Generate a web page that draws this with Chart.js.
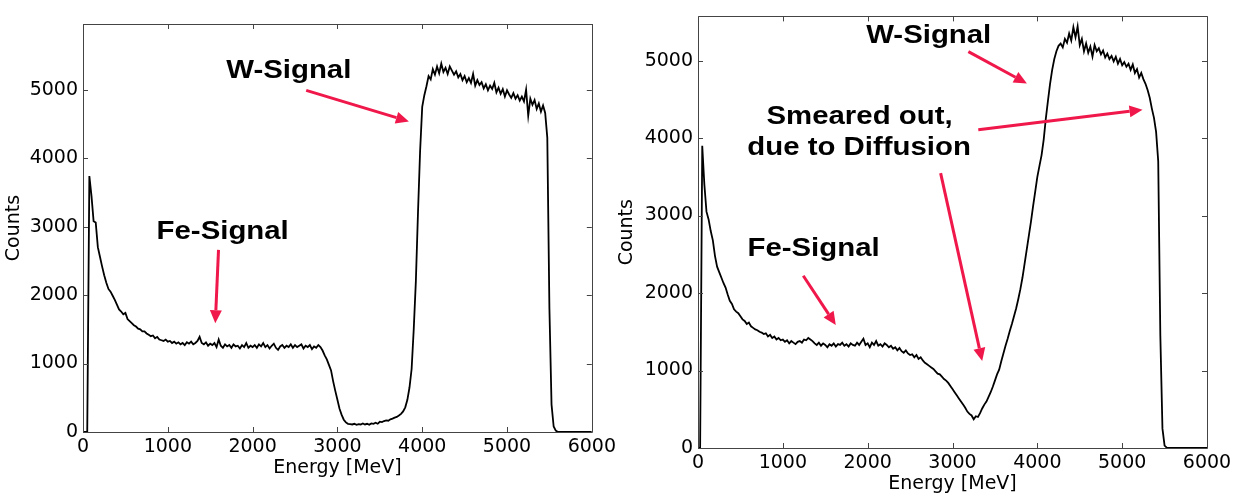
<!DOCTYPE html>
<html>
<head>
<meta charset="utf-8">
<script src="https://cdn.jsdelivr.net/npm/chart.js@4"></script>
<style>
  html, body { margin: 0; padding: 0; background: #fff; }
  #wrap { position: relative; width: 1240px; height: 497px; }
  canvas { position: absolute; top: 0; }
  #left { left: 0; }
  #right { left: 610px; }
</style>
</head>
<body>
<div id="wrap">
  <canvas id="left" width="620" height="497"></canvas>
  <canvas id="right" width="630" height="497"></canvas>
</div>
<script>
// bin energies (MeV)
const energies = [
  0, 25, 50, 75, 100, 125, 150, 175, 200, 225,
  250, 275, 300, 325, 350, 375, 400, 425, 450, 475,
  500, 525, 550, 575, 600, 625, 650, 675, 700, 725,
  750, 775, 800, 825, 850, 875, 900, 925, 950, 975,
  1000, 1025, 1050, 1075, 1100, 1125, 1150, 1175, 1200, 1225,
  1250, 1275, 1300, 1325, 1350, 1375, 1400, 1425, 1450, 1475,
  1500, 1525, 1550, 1575, 1600, 1625, 1650, 1675, 1700, 1725,
  1750, 1775, 1800, 1825, 1850, 1875, 1900, 1925, 1950, 1975,
  2000, 2025, 2050, 2075, 2100, 2125, 2150, 2175, 2200, 2225,
  2250, 2275, 2300, 2325, 2350, 2375, 2400, 2425, 2450, 2475,
  2500, 2525, 2550, 2575, 2600, 2625, 2650, 2675, 2700, 2725,
  2750, 2775, 2800, 2825, 2850, 2875, 2900, 2925, 2950, 2975,
  3000, 3025, 3050, 3075, 3100, 3125, 3150, 3175, 3200, 3225,
  3250, 3275, 3300, 3325, 3350, 3375, 3400, 3425, 3450, 3475,
  3500, 3525, 3550, 3575, 3600, 3625, 3650, 3675, 3700, 3725,
  3750, 3775, 3800, 3825, 3850, 3875, 3900, 3925, 3950, 3975,
  4000, 4025, 4050, 4075, 4100, 4125, 4150, 4175, 4200, 4225,
  4250, 4275, 4300, 4325, 4350, 4375, 4400, 4425, 4450, 4475,
  4500, 4525, 4550, 4575, 4600, 4625, 4650, 4675, 4700, 4725,
  4750, 4775, 4800, 4825, 4850, 4875, 4900, 4925, 4950, 4975,
  5000, 5025, 5050, 5075, 5100, 5125, 5150, 5175, 5200, 5225,
  5250, 5275, 5300, 5325, 5350, 5375, 5400, 5425, 5450, 5475,
  5500, 5525, 5550, 5575, 5600, 5625, 5650, 5675, 5700, 5725,
  5750, 5775, 5800, 5825, 5850, 5875, 5900, 5925, 5950, 5975,
  6000
];

// left: sharp W-signal
const countsLeft = [
  0, 0, 0, 3740, 3450, 3080, 3060, 2700, 2560, 2420,
  2290, 2180, 2090, 2050, 1990, 1930, 1860, 1790, 1760, 1720,
  1740, 1650, 1620, 1590, 1560, 1540, 1510, 1500, 1470, 1470,
  1440, 1420, 1400, 1410, 1370, 1390, 1350, 1340, 1330, 1350,
  1320, 1330, 1300, 1320, 1290, 1310, 1280, 1300, 1270, 1310,
  1290, 1320, 1280, 1300, 1330, 1390, 1300, 1280, 1310, 1260,
  1290, 1270, 1300, 1240, 1350, 1260, 1230, 1280, 1250, 1270,
  1230, 1280, 1250, 1260, 1220, 1270, 1240, 1300, 1230, 1260,
  1240, 1270, 1230, 1280, 1250, 1300, 1240, 1270, 1220, 1260,
  1290, 1230, 1200, 1250, 1270, 1230, 1260, 1240, 1280, 1230,
  1270, 1240, 1260, 1280, 1220, 1260, 1240, 1270, 1210, 1250,
  1230, 1270, 1240, 1190, 1120, 1060, 980, 900, 740, 600,
  470, 340, 250, 180, 140, 120, 115, 110, 120, 105,
  115, 110, 125, 110, 120, 105, 125, 120, 135, 120,
  150, 145, 160, 170, 165, 185, 195, 210, 220, 240,
  265, 300, 360, 470, 650, 920, 1500, 2200, 3200, 4100,
  4750, 4920, 5050, 5200, 5150, 5300, 5220, 5340, 5240, 5380,
  5260, 5320, 5230, 5340, 5280, 5220, 5270, 5180, 5230, 5140,
  5200, 5110, 5170, 5100, 5230, 5060, 5140, 5070, 5110, 5020,
  5080, 4990, 5060, 5010, 5100, 4960, 5030, 4940, 5010, 4900,
  4990, 4930, 4880, 4950, 4870, 4920, 4840, 4900, 4830, 5000,
  4620, 4870, 4780, 4850, 4720, 4800, 4680, 4770, 4660, 4300,
  1800, 400, 80, 20, 0, 0, 0, 0, 0, 0,
  0, 0, 0, 0, 0, 0, 0, 0, 0, 0,
  0
];

// right: smeared out by diffusion
const countsRight = [
  0, 0, 3900, 3400, 3050, 2950, 2800, 2680, 2480, 2340,
  2270, 2200, 2130, 2070, 1980, 1900, 1860, 1790, 1760, 1740,
  1700, 1660, 1640, 1600, 1620, 1570, 1550, 1530, 1520, 1500,
  1490, 1470, 1480, 1440, 1460, 1420, 1440, 1400, 1420, 1390,
  1400, 1370, 1390, 1350, 1380, 1360, 1340, 1370, 1380, 1360,
  1400, 1390, 1420, 1400, 1380, 1350, 1330, 1360, 1320, 1350,
  1330, 1300, 1340, 1320, 1350, 1310, 1340, 1330, 1360, 1320,
  1340, 1310, 1350, 1330, 1320, 1360, 1330, 1370, 1410, 1330,
  1350, 1300, 1360, 1330, 1380, 1320, 1340, 1310, 1350, 1330,
  1300, 1320, 1280, 1300, 1260, 1290, 1250, 1230, 1260, 1220,
  1200, 1210, 1170, 1200, 1150, 1170, 1130, 1100, 1080, 1060,
  1040, 1020, 990, 960, 950, 920, 890, 870, 840, 800,
  760, 720, 680, 640, 600, 560, 520, 470, 440, 420,
  370, 410, 400, 450, 510, 560, 600, 660, 720, 790,
  870, 950, 1010, 1120, 1220, 1320, 1410, 1510, 1600, 1700,
  1800, 1920, 2050, 2200, 2380, 2560, 2740, 2920, 3120, 3310,
  3500, 3640, 3780, 3980, 4250, 4480, 4700, 4880, 5020, 5120,
  5190, 5220, 5170, 5280, 5230, 5350, 5260, 5430, 5300, 5440,
  5200, 5280, 5120, 5220, 5100, 5180, 5050, 5200, 5120, 5160,
  5080, 5130, 5040, 5090, 5020, 5060, 4990, 5050, 4960, 5020,
  4940, 4980, 4920, 4960, 4880, 4950, 4840, 4890, 4780, 4840,
  4760, 4700, 4620, 4520, 4380, 4260, 4080, 3700, 1450, 250,
  30, 5, 0, 0, 0, 0, 0, 0, 0, 0,
  0, 0, 0, 0, 0, 0, 0, 0, 0, 0,
  0
];

const xTicks = [0, 1000, 2000, 3000, 4000, 5000, 6000];
const yTicks = [0, 1000, 2000, 3000, 4000, 5000];

// annotations, in data units
const notesLeft = {
  labels: [
    { text: 'W-Signal', x: 2427, y: 5278 },
    { text: 'Fe-Signal', x: 1647, y: 2928 },
  ],
  arrows: [
    { from: [2632, 4990], to: [3843, 4537] },
    { from: [1598, 2661], to: [1560, 1589] },
  ],
};
const notesRight = {
  labels: [
    { text: 'W-Signal', x: 2720, y: 5316 },
    { text: 'Smeared out,', x: 1904, y: 4268 },
    { text: 'due to Diffusion', x: 1899, y: 3878 },
    { text: 'Fe-Signal', x: 1362, y: 2566 },
  ],
  arrows: [
    { from: [3187, 5115], to: [3877, 4704] },
    { from: [3304, 4107], to: [5240, 4365] },
    { from: [2860, 3548], to: [3350, 1122] },
    { from: [1241, 2223], to: [1624, 1588] },
  ],
};

const RED = '#f0174a';
const FONT = '"DejaVu Sans", sans-serif';

// box around plot area + inward ticks on all sides
const framePlugin = {
  id: 'frame',
  afterDraw(chart) {
    const { ctx, chartArea: a, scales: { x, y } } = chart;
    const seg = (x1, y1, x2, y2) => { ctx.moveTo(x1, y1); ctx.lineTo(x2, y2); };
    ctx.save();
    ctx.strokeStyle = '#444';
    ctx.lineWidth = 1;
    ctx.beginPath();
    ctx.rect(Math.round(a.left) + 0.5, Math.round(a.top) + 0.5, Math.round(a.width), Math.round(a.height));
    x.ticks.forEach(t => {
      const px = Math.round(x.getPixelForValue(t.value)) + 0.5;
      seg(px, a.bottom, px, a.bottom - 5);
      seg(px, a.top, px, a.top + 5);
    });
    y.ticks.forEach(t => {
      const py = Math.round(y.getPixelForValue(t.value)) + 0.5;
      seg(a.left, py, a.left + 5, py);
      seg(a.right, py, a.right - 5, py);
    });
    ctx.stroke();
    ctx.restore();
  }
};

// red arrows and bold labels
const notesPlugin = {
  id: 'notes',
  afterDraw(chart, args, opts) {
    const { ctx, scales: { x, y } } = chart;
    ctx.save();
    ctx.fillStyle = RED;
    ctx.strokeStyle = RED;
    ctx.lineWidth = 3;
    opts.arrows.forEach(ar => {
      const x1 = x.getPixelForValue(ar.from[0]), y1 = y.getPixelForValue(ar.from[1]);
      const x2 = x.getPixelForValue(ar.to[0]), y2 = y.getPixelForValue(ar.to[1]);
      const ang = Math.atan2(y2 - y1, x2 - x1);
      const len = 13, half = 6;
      const bx = x2 - Math.cos(ang) * len, by = y2 - Math.sin(ang) * len;
      ctx.beginPath();
      ctx.moveTo(x1, y1);
      ctx.lineTo(bx, by);
      ctx.stroke();
      ctx.beginPath();
      ctx.moveTo(x2, y2);
      ctx.lineTo(bx + Math.sin(ang) * half, by - Math.cos(ang) * half);
      ctx.lineTo(bx - Math.sin(ang) * half, by + Math.cos(ang) * half);
      ctx.closePath();
      ctx.fill();
    });
    ctx.fillStyle = '#000';
    ctx.font = 'bold 26px "Liberation Sans", Arial, sans-serif';
    ctx.textAlign = 'center';
    ctx.textBaseline = 'middle';
    opts.labels.forEach(l => {
      ctx.save();
      ctx.translate(x.getPixelForValue(l.x), y.getPixelForValue(l.y));
      ctx.scale(1.13, 1);
      ctx.fillText(l.text, 0, 0);
      ctx.restore();
    });
    ctx.restore();
  }
};

function makeChart(id, counts, yMax, layout, notes) {
  const tickFont = { family: FONT, size: 19 };
  return new Chart(document.getElementById(id), {
    type: 'line',
    data: {
      datasets: [{
        data: energies.map((e, i) => ({ x: e, y: counts[i] })),
        borderColor: '#000',
        borderWidth: 1.8,
        pointRadius: 0,
        tension: 0,
        fill: false,
      }],
    },
    options: {
      responsive: false,
      animation: false,
      layout: { padding: layout.padding },
      plugins: {
        legend: { display: false },
        tooltip: { enabled: false },
        notes: notes,
      },
      scales: {
        x: {
          type: 'linear',
          min: 0,
          max: 6000,
          afterBuildTicks: s => { s.ticks = xTicks.map(v => ({ value: v })); },
          afterFit: s => { s.height = layout.xHeight; },
          grid: { display: false, drawTicks: false },
          border: { display: false },
          ticks: { color: '#000', font: tickFont, padding: 4, maxRotation: 0, autoSkip: false, callback: v => String(v) },
          title: { display: true, text: 'Energy [MeV]', color: '#000', font: tickFont, padding: { top: 0, bottom: layout.xTitlePad } },
        },
        y: {
          type: 'linear',
          min: 0,
          max: yMax,
          afterBuildTicks: s => { s.ticks = yTicks.map(v => ({ value: v })); },
          afterFit: s => { s.width = layout.yWidth; },
          grid: { display: false, drawTicks: false },
          border: { display: false },
          ticks: { color: '#000', font: tickFont, padding: 5, callback: v => String(v) },
          title: { display: true, text: 'Counts', color: '#000', font: tickFont, padding: { top: layout.yTitlePad, bottom: 0 } },
        },
      },
    },
    plugins: [framePlugin, notesPlugin],
  });
}

makeChart('left', countsLeft, 5960, {
  padding: { left: 0, right: 28, top: 24, bottom: 0 },
  yWidth: 83, xHeight: 65, xTitlePad: 18, yTitlePad: 3,
}, notesLeft);

makeChart('right', countsRight, 5570, {
  padding: { left: 0, right: 33, top: 9, bottom: 0 },
  yWidth: 88, xHeight: 49, xTitlePad: 2, yTitlePad: 6,
}, notesRight);
</script>
</body>
</html>
